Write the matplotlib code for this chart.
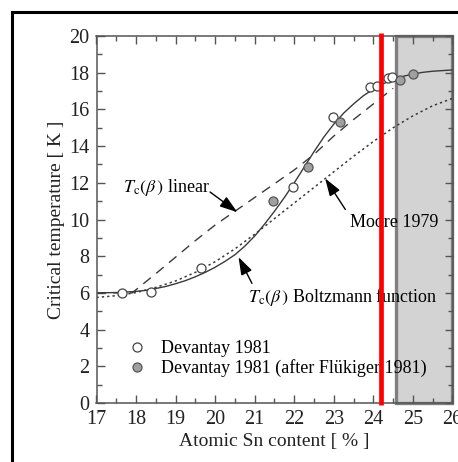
import matplotlib
matplotlib.use("Agg")
import matplotlib.pyplot as plt
from matplotlib.patches import Rectangle
from matplotlib.lines import Line2D
from matplotlib.ticker import MultipleLocator

plt.rcParams['font.family'] = ['Liberation Serif', 'DejaVu Serif']
plt.rcParams['mathtext.fontset'] = 'stix'

# ---- data ----
open_x = [17.65, 18.38, 19.65, 21.98, 22.97, 23.91, 24.09, 24.37, 24.46]
open_y = [5.98, 6.07, 7.34, 11.79, 15.57, 17.20, 17.30, 17.69, 17.78]

grey_x = [21.45, 22.35, 23.16, 24.68, 25.00]
grey_y = [11.03, 12.84, 15.33, 17.60, 17.92]

boltz_x = [17.0, 17.5, 18.0, 18.25, 18.5, 18.75, 19.0, 19.25, 19.5, 19.75,
           20.0, 20.25, 20.5, 20.75, 21.0, 21.25, 21.5, 21.75, 22.0, 22.25,
           22.5, 22.75, 23.0, 23.25, 23.5, 23.75, 24.0, 24.25, 24.5, 24.75,
           25.0, 25.25, 25.5, 26.0]
boltz_y = [6.0, 6.02, 6.08, 6.14, 6.24, 6.35, 6.5, 6.67, 6.88, 7.12,
           7.4, 7.72, 8.08, 8.55, 9.1, 9.75, 10.45, 11.2, 12.0, 12.85,
           13.7, 14.5, 15.2, 15.8, 16.3, 16.75, 17.1, 17.4, 17.62, 17.8,
           17.93, 18.02, 18.08, 18.15]

linear_x = [17.0, 17.9, 18.5, 19.0, 19.5, 20.0, 20.5, 21.0, 21.5, 22.0, 22.5,
            23.0, 23.5, 24.0, 24.5]
linear_y = [6.0, 6.0, 7.05, 7.95, 8.85, 9.7, 10.45, 11.2, 11.95, 12.7, 13.55,
            14.55, 15.45, 16.3, 17.15]

moore_x = [17.0, 17.5, 18.0, 18.5, 19.0, 19.5, 20.0, 20.5, 21.0, 21.5, 22.0,
           22.5, 23.0, 23.5, 24.0, 24.5, 25.0, 25.5, 26.0]
moore_y = [5.75, 5.85, 6.02, 6.3, 6.65, 7.12, 7.7, 8.4, 9.2, 10.05, 10.9,
           11.75, 12.6, 13.45, 14.25, 15.0, 15.65, 16.2, 16.6]

x_ticks = list(range(17, 27))
y_ticks = list(range(0, 21, 2))
shade_from = 24.575
red_line_x = 24.18

# ---- figure ----
fig = plt.figure(figsize=(4.58, 4.62), dpi=100)
ax = fig.add_axes([96.5 / 458, 1 - 403 / 462, 356 / 458, 367 / 462])
ax.set_xlim(17, 26)
ax.set_ylim(0, 20)

# outer frame (left and top visible)
fig.add_artist(Line2D([11.5 / 458, 11.5 / 458], [0, 1 - 11.5 / 462],
                      transform=fig.transFigure, color='black', lw=2.2))
fig.add_artist(Line2D([11.5 / 458, 1], [1 - 12 / 462, 1 - 12 / 462],
                      transform=fig.transFigure, color='black', lw=2.2))

# shaded region
ax.add_patch(Rectangle((shade_from, 0), 26 - shade_from, 20, facecolor='#d3d3d3',
                       edgecolor='#808080', lw=2.4, zorder=0.5, clip_on=False))

line_col = '#3a3a3a'
ax.plot(boltz_x, boltz_y, '-', color=line_col, lw=1.0, zorder=2)
ax.plot(linear_x, linear_y, color=line_col, lw=1.0, dashes=(7, 5), zorder=2)
ax.plot(moore_x, moore_y, color=line_col, lw=1.1, dashes=(1.5, 2.0), zorder=2)

ax.plot(open_x, open_y, 'o', mfc='white', mec='#444444', mew=0.9, ms=6.5,
        ls='none', zorder=3, label='Devantay 1981')
ax.plot(grey_x, grey_y, 'o', mfc='#a0a0a0', mec='#555555', mew=0.9, ms=6.5,
        ls='none', zorder=3, label='Devantay 1981 (after Flükiger 1981)')

arrow = dict(arrowstyle='-|>,head_length=0.9,head_width=0.3', color='black',
             lw=1.0, mutation_scale=12, shrinkA=0, shrinkB=0)
ax.annotate('', xy=(20.56, 10.4), xytext=(19.87, 11.5), arrowprops=arrow, zorder=4)
ax.annotate('', xy=(22.78, 12.24), xytext=(23.29, 10.55), arrowprops=arrow, zorder=4)
ax.annotate('', xy=(20.59, 7.95), xytext=(20.93, 6.52), arrowprops=arrow, zorder=4)

ax.text(17.67, 11.72, r'$T_{\rm c}(\beta\,)$ linear', fontsize=13, va='center',
        ha='left', zorder=4)
ax.text(23.42, 9.86, 'Moore 1979', fontsize=13, va='center', ha='left', zorder=4)
ax.text(20.84, 5.79, r'$T_{\rm c}(\beta\,)$ Boltzmann function', fontsize=13,
        va='center', ha='left', zorder=4)

leg = ax.legend(loc='upper left', bbox_to_anchor=(0.0885, 0.172), frameon=False,
                fontsize=13, handlelength=1.0, handletextpad=0.85,
                borderpad=0, borderaxespad=0, labelspacing=0.12)
leg.set_zorder(4)

# red vertical line on top
ax.plot([red_line_x, red_line_x], [-0.1, 20.15], color='#ff0000', lw=3.4,
        solid_capstyle='butt', clip_on=False, zorder=10)

ax.set_xticks(x_ticks)
ax.set_yticks(y_ticks)
ax.xaxis.set_minor_locator(MultipleLocator(0.5))
ax.yaxis.set_minor_locator(MultipleLocator(1))
ax.tick_params(which='both', direction='in', top=True, right=True,
               color='#555555', width=1.0)
ax.tick_params(which='major', length=6, labelsize=14.5, pad=5, labelcolor='#222222')
ax.tick_params(which='minor', length=3.5)
for s in ax.spines.values():
    s.set_color('#555555')
    s.set_linewidth(1.1)

ax.set_xlabel('Atomic Sn content [ % ]', fontsize=14, labelpad=3, color='#222222')
ax.set_ylabel('Critical temperature [ K ]', fontsize=14, labelpad=3, color='#222222')

fig.savefig('out.png', dpi=100)
